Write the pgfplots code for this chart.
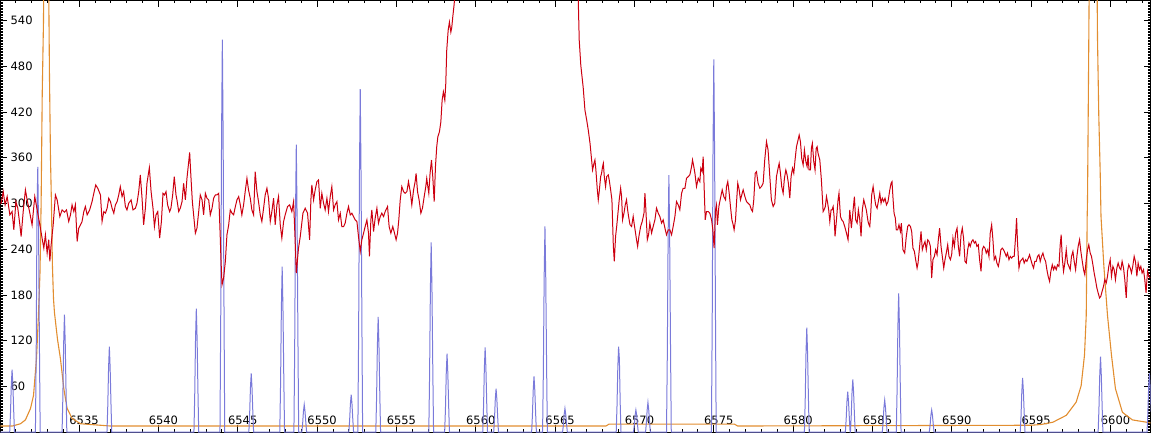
\documentclass[border=0pt]{standalone}
\usepackage{fontspec}
\setmainfont{DejaVu Sans}
\usepackage{pgfplots}
\pgfplotsset{compat=1.18}

\definecolor{specred}{RGB}{204,0,16}
\definecolor{specblue}{RGB}{122,122,218}
\definecolor{specorange}{RGB}{226,142,48}

\begin{document}
\begin{tikzpicture}
\begin{axis}[
    width=1151pt, height=432pt, scale only axis,
    xmin=6530.05, xmax=6602.52,
    ymin=0, ymax=566.2,
    xtick={6535,6540,...,6600},
    minor xtick={6531,6532,...,6602},
    ytick={60,120,...,540},
    minor ytick={0,2,...,566},
    tick align=inside,
    major tick length=7pt,
    minor tick length=3pt,
    tick style={black, line width=0.8pt},
    axis line style={black, line width=1pt},
    /pgf/number format/.cd, 1000 sep={}, assume math mode=true, /pgfplots/.cd,
    tick label style={font=\fontsize{11.5}{12}\selectfont, inner sep=0pt},
    xticklabel style={anchor=base, yshift=8pt, xshift=5pt},
    yticklabel style={anchor=west, xshift=10pt},
    clip=true,
]
% orange envelope
\addplot[color=specorange, line width=1.1pt] coordinates {
(6530.05,8) (6530.80,8) (6531.31,11) (6531.62,16) (6531.94,31) (6532.13,48)
(6532.32,97) (6532.44,153) (6532.54,210) (6532.61,300) (6532.68,444) (6532.76,540)
(6532.85,850) (6532.95,900) (6533.04,700) (6533.135,470) (6533.20,360) (6533.26,300)
(6533.32,220) (6533.39,175) (6533.45,157) (6533.64,122) (6533.83,96) (6534.04,57)
(6534.25,31) (6534.56,18) (6535.09,11) (6536.98,8) (6568.20,8) (6568.40,10.5)
(6576.30,10.5) (6576.50,8) (6595.00,9) (6595.63,10) (6596.37,13) (6597.21,22)
(6597.84,39.5) (6598.15,61) (6598.36,101) (6598.47,153) (6598.53,283) (6598.55,305)
(6598.59,405) (6598.63,512) (6598.75,850) (6598.90,1000) (6599.05,850) (6599.18,516)
(6599.26,416) (6599.35,340) (6599.40,283) (6599.58,218) (6599.81,153) (6600.06,101)
(6600.31,57) (6600.75,26) (6601.38,16) (6602.27,13) (6602.52,12)
};
% blue line spectrum
\addplot[color=specblue, line width=1pt] coordinates {
(6530.00,0)
(6530.63,0) (6530.68,25) (6530.73,62) (6530.78,82) (6530.83,62) (6530.88,29) (6530.93,0)
(6532.25,0) (6532.30,104) (6532.35,290) (6532.40,348) (6532.45,261) (6532.50,122) (6532.55,0)
(6533.93,0) (6533.98,46) (6534.03,116) (6534.08,154) (6534.13,116) (6534.18,54) (6534.23,0)
(6536.76,0) (6536.81,34) (6536.86,84) (6536.91,112) (6536.96,84) (6537.01,39) (6537.06,0)
(6542.24,0) (6542.29,49) (6542.34,122) (6542.39,162) (6542.44,122) (6542.49,57) (6542.54,0)
(6543.88,0) (6543.93,155) (6543.98,386) (6544.03,515) (6544.08,386) (6544.13,180) (6544.18,0)
(6545.70,0) (6545.75,23) (6545.80,58) (6545.85,77) (6545.90,58) (6545.95,27) (6546.00,0)
(6547.65,0) (6547.70,65) (6547.75,163) (6547.80,217) (6547.85,163) (6547.90,76) (6547.95,0)
(6548.54,0) (6548.59,113) (6548.64,283) (6548.69,377) (6548.74,283) (6548.79,132) (6548.84,0)
(6549.04,0) (6549.09,11) (6549.14,27) (6549.19,36) (6549.24,27) (6549.29,13) (6549.34,0)
(6552.00,0) (6552.05,15) (6552.10,37) (6552.15,49) (6552.20,37) (6552.25,17) (6552.30,0)
(6552.57,0) (6552.62,135) (6552.67,338) (6552.72,450) (6552.77,338) (6552.82,158) (6552.87,0)
(6553.70,0) (6553.75,45) (6553.80,113) (6553.85,151) (6553.90,113) (6553.95,53) (6554.00,0)
(6557.04,0) (6557.09,75) (6557.14,187) (6557.19,249) (6557.24,187) (6557.29,87) (6557.34,0)
(6558.04,0) (6558.09,31) (6558.14,77) (6558.19,103) (6558.24,77) (6558.29,36) (6558.34,0)
(6560.44,0) (6560.49,33) (6560.54,83) (6560.59,111) (6560.64,83) (6560.69,39) (6560.74,0)
(6561.13,0) (6561.18,17) (6561.23,43) (6561.28,57) (6561.33,43) (6561.38,20) (6561.43,0)
(6563.52,0) (6563.57,22) (6563.62,55) (6563.67,73) (6563.72,55) (6563.77,26) (6563.82,0)
(6564.21,0) (6564.26,81) (6564.31,203) (6564.36,270) (6564.41,203) (6564.46,95) (6564.51,0)
(6565.47,0) (6565.52,9) (6565.57,23) (6565.62,31) (6565.67,23) (6565.72,11) (6565.77,0)
(6568.85,0) (6568.90,34) (6568.95,84) (6569.00,112) (6569.05,96) (6569.10,39) (6569.15,0)
(6569.94,0) (6569.99,9) (6570.04,22) (6570.09,29) (6570.14,22) (6570.19,10) (6570.24,0)
(6570.70,0) (6570.75,12) (6570.80,29) (6570.85,39) (6570.90,29) (6570.95,14) (6571.00,0)
(6572.02,0) (6572.07,101) (6572.12,253) (6572.17,337) (6572.22,253) (6572.27,118) (6572.32,0)
(6574.85,0) (6574.90,147) (6574.95,367) (6575.00,489) (6575.05,367) (6575.10,171) (6575.15,0)
(6580.71,0) (6580.76,41) (6580.81,103) (6580.86,137) (6580.91,103) (6580.96,48) (6581.01,0)
(6583.29,0) (6583.34,16) (6583.39,40) (6583.44,53) (6583.49,40) (6583.54,19) (6583.59,0)
(6583.61,0) (6583.66,21) (6583.71,52) (6583.76,69) (6583.81,52) (6583.86,24) (6583.91,0)
(6585.62,0) (6585.67,13) (6585.72,32) (6585.77,42) (6585.82,32) (6585.87,15) (6585.92,0)
(6586.50,0) (6586.55,55) (6586.60,137) (6586.65,182) (6586.70,137) (6586.75,64) (6586.80,0)
(6588.58,0) (6588.63,9) (6588.68,22) (6588.73,29) (6588.78,22) (6588.83,10) (6588.88,0)
(6594.31,0) (6594.36,21) (6594.41,53) (6594.46,71) (6594.51,53) (6594.56,25) (6594.61,0)
(6599.22,0) (6599.27,30) (6599.32,74) (6599.37,99) (6599.42,74) (6599.47,35) (6599.52,0)
(6602.30,0) (6602.35,23) (6602.40,58) (6602.45,77) (6602.50,58) (6602.55,27)
};
% red observed spectrum
\addplot[color=specred, line width=1pt] coordinates {
(6530.05,300) (6530.09,300.2) (6530.22,315.5) (6530.34,298.1) (6530.47,309) (6530.64,285)
(6530.78,289.3) (6530.89,265.4) (6531.02,302.4) (6531.14,293.7) (6531.27,271.9) (6531.35,256.6)
(6531.48,289.3) (6531.62,317.7) (6531.73,304.6) (6531.90,287.2) (6532.04,271.9) (6532.21,309)
(6532.36,291.5) (6532.53,271.9) (6532.67,254.5) (6532.78,241.4) (6532.88,258.8) (6532.99,234.8)
(6533.09,252.3) (6533.16,224) (6533.24,245.7) (6533.37,271.9) (6533.51,311.1) (6533.62,304.6)
(6533.79,282.8) (6533.93,291.5) (6534.08,288.5) (6534.21,291.5) (6534.35,276.3) (6534.46,285)
(6534.56,298.1) (6534.67,289.3) (6534.77,298.1) (6534.88,250.1) (6534.98,267.5) (6535.09,271.9)
(6535.19,276.3) (6535.30,289.3) (6535.40,295.9) (6535.51,285) (6535.67,291.5) (6535.82,302.4)
(6535.93,313.3) (6536.05,324.2) (6536.18,319.9) (6536.35,311.1) (6536.45,276.3) (6536.56,289.3)
(6536.66,287.2) (6536.77,293.7) (6536.87,306.8) (6536.98,302.4) (6537.08,293.7) (6537.19,287.2)
(6537.29,298.1) (6537.40,302.4) (6537.50,311.1) (6537.60,322) (6537.71,309) (6537.81,315.5)
(6537.92,295.9) (6538.02,291.5) (6538.13,300.2) (6538.28,304.6) (6538.40,291.5) (6538.55,293.7)
(6538.65,300.2) (6538.76,315.5) (6538.86,337.3) (6538.97,306.8) (6539.07,271.9) (6539.18,293.7)
(6539.28,326.4) (6539.43,346.9) (6539.54,315.5) (6539.66,293.7) (6539.75,269.7) (6539.85,285)
(6539.96,289.3) (6540.08,254.5) (6540.19,276.3) (6540.29,313.3) (6540.38,311.1) (6540.48,315.5)
(6540.58,298.1) (6540.71,289.3) (6540.79,293.7) (6540.90,311.1) (6541.00,335.1) (6541.11,311.1)
(6541.17,304.6) (6541.28,289.3) (6541.38,293.7) (6541.49,302.4) (6541.59,326.4) (6541.70,304.6)
(6541.80,332.9) (6541.91,354.7) (6541.97,366.9) (6542.05,335.1) (6542.14,302.4) (6542.22,285)
(6542.33,261) (6542.43,267.5) (6542.54,289.3) (6542.64,311.1) (6542.75,304.6) (6542.85,285)
(6542.96,313.3) (6543.06,306.8) (6543.17,304.6) (6543.27,285) (6543.38,293.7) (6543.48,306.8)
(6543.59,311.1) (6543.69,311.1) (6543.80,313.3) (6543.90,254.5) (6543.94,228.3) (6544.01,193.4)
(6544.11,202.1) (6544.22,224) (6544.32,258.8) (6544.43,271.9) (6544.53,291.5) (6544.64,287.2)
(6544.74,285) (6544.85,295.9) (6544.95,304.6) (6545.06,309) (6545.16,298.1) (6545.26,285)
(6545.37,298.1) (6545.47,315.5) (6545.58,332.9) (6545.68,317.7) (6545.79,306.8) (6545.89,291.5)
(6546.00,285) (6546.10,341.7) (6546.21,315.5) (6546.31,302.4) (6546.42,285) (6546.52,276.3)
(6546.63,293.7) (6546.73,311.1) (6546.84,319.9) (6546.94,306.8) (6547.05,276.3) (6547.15,289.3)
(6547.26,306.8) (6547.36,271.9) (6547.47,298.1) (6547.57,309) (6547.68,271.9) (6547.78,254.5)
(6547.89,276.3) (6547.99,285) (6548.14,295.9) (6548.27,298.1)
(6548.41,289.3) (6548.52,302.4) (6548.60,261) (6548.69,208.7) (6548.83,241.4) (6548.94,256.6)
(6549.11,287.2) (6549.25,293.7) (6549.40,287.2) (6549.53,252.3) (6549.61,304.6) (6549.67,324.2)
(6549.78,304.6) (6549.88,317.7) (6549.99,328.6) (6550.09,330.8) (6550.20,293.7) (6550.30,313.3)
(6550.41,300.2) (6550.51,291.5) (6550.62,306.8) (6550.72,289.3) (6550.83,309) (6550.93,322)
(6551.04,291.5) (6551.14,298.1) (6551.25,302.4) (6551.35,278.4) (6551.46,287.2) (6551.56,269.7)
(6551.67,269.7) (6551.77,274.1) (6551.88,287.2) (6551.98,295.9) (6552.09,285) (6552.19,287.2)
(6552.30,282.8) (6552.40,278.4) (6552.51,276.3) (6552.61,256.6) (6552.72,237) (6552.82,252.3)
(6552.93,261) (6553.03,269.7) (6553.14,278.4) (6553.24,261) (6553.30,230.5) (6553.39,278.4)
(6553.45,291.5) (6553.56,263.2) (6553.66,280.6) (6553.77,293.7) (6553.87,274.1) (6553.98,282.8)
(6554.08,287.2) (6554.19,282.8) (6554.29,289.3) (6554.44,295.9) (6554.54,269.7) (6554.65,261)
(6554.77,269.7) (6554.88,261) (6554.98,252.3) (6555.07,261) (6555.15,278.4) (6555.24,304.6)
(6555.34,322) (6555.45,315.5) (6555.55,313.3) (6555.66,315.5) (6555.76,328.6) (6555.87,315.5)
(6555.97,298.1) (6556.08,317.7) (6556.18,328.6) (6556.24,339.5) (6556.33,315.5) (6556.43,304.6)
(6556.54,287.2) (6556.64,293.7) (6556.75,309) (6556.85,322) (6556.91,332.9) (6556.98,322)
(6557.04,313.3) (6557.12,339.5) (6557.21,356.9) (6557.29,335.1) (6557.38,302.4) (6557.46,348.2)
(6557.54,374.4) (6557.61,387.4) (6557.71,394) (6557.80,407.1) (6557.88,435.4) (6557.96,446.3)
(6558.05,435.4) (6558.11,457.2) (6558.17,500.8) (6558.26,527) (6558.34,537.9) (6558.43,524.8)
(6558.49,531.3) (6558.55,544.4) (6558.64,561.8) (6558.75,600) (6559.00,700) (6559.50,850)
(6560.50,1050) (6561.50,1200) (6562.50,1280) (6563.30,1290) (6564.20,1200) (6565.00,1000)
(6565.60,820) (6566.00,700) (6566.30,620) (6566.46,566) (6566.52,514) (6566.62,481)
(6566.77,452)
(6566.88,422.4) (6566.99,409.3) (6567.09,396.2) (6567.20,378.8) (6567.30,357) (6567.36,343.9)
(6567.45,352.6) (6567.51,357) (6567.57,343.9) (6567.66,317.8) (6567.72,304.7) (6567.78,315.6)
(6567.87,335.2) (6567.93,339.6) (6567.99,348.3) (6568.04,352.6) (6568.10,335.2) (6568.18,322.1)
(6568.25,335.2) (6568.35,337.4) (6568.41,330.8) (6568.50,317.8) (6568.58,304.7) (6568.67,243.6)
(6568.73,224) (6568.81,256.7) (6568.88,269.8) (6568.96,287.2) (6569.04,304.7) (6569.13,319.9)
(6569.19,309) (6569.25,278.5) (6569.34,287.2) (6569.42,298.1) (6569.50,304.7) (6569.57,291.6)
(6569.63,282.9) (6569.72,272) (6569.82,269.8) (6569.92,282.9) (6569.99,272) (6570.07,261.1)
(6570.13,252.4) (6570.20,243.6) (6570.28,256.7) (6570.39,269.8) (6570.49,276.3) (6570.60,287.2)
(6570.66,313.4) (6570.72,291.6) (6570.81,252.4) (6570.89,258.9) (6570.97,274.2) (6571.08,261.1)
(6571.18,269.8) (6571.29,278.5) (6571.39,293.8) (6571.50,287.2) (6571.60,282.9) (6571.71,274.2)
(6571.81,278.5) (6571.92,267.6) (6572.02,258.9) (6572.13,265.4) (6572.23,265.4) (6572.34,258.9)
(6572.44,269.8) (6572.55,282.9) (6572.65,302.5) (6572.76,298.1) (6572.86,291.6) (6572.97,313.4)
(6573.07,319.9) (6573.18,319.9) (6573.28,333) (6573.39,335.2) (6573.49,337.4) (6573.60,348.3)
(6573.66,357) (6573.74,348.3) (6573.81,339.6) (6573.91,322.1) (6574.02,333) (6574.12,328.7)
(6574.18,346.1) (6574.27,341.7) (6574.33,361.4) (6574.39,322.1) (6574.46,278.5) (6574.54,289.4)
(6574.65,289.4) (6574.75,287.2) (6574.86,278.5) (6574.94,265.4) (6575.02,241.5) (6575.11,291.6)
(6575.17,298.1) (6575.23,272) (6575.32,296) (6575.42,306.9) (6575.53,317.8) (6575.63,309)
(6575.74,304.7) (6575.80,322.1) (6575.88,328.7) (6575.97,313.4) (6576.05,296) (6576.14,278.5)
(6576.22,272) (6576.28,265.4) (6576.37,278.5) (6576.43,300.3) (6576.51,326.5) (6576.60,317.8)
(6576.68,304.7) (6576.79,313.4) (6576.85,317.8) (6576.96,309) (6577.06,302.5) (6577.16,300.3)
(6577.27,298.1) (6577.37,291.6) (6577.44,289.4) (6577.52,304.7) (6577.61,339.6) (6577.69,341.7)
(6577.79,326.5) (6577.90,319.9) (6578.00,322.1) (6578.11,326.5) (6578.21,357) (6578.32,381)
(6578.42,370.1) (6578.53,335.2) (6578.63,304.7) (6578.74,296) (6578.84,300.3) (6578.95,335.2)
(6579.05,346.1) (6579.12,352.6) (6579.20,339.6) (6579.28,322.1) (6579.37,313.4) (6579.45,333)
(6579.54,343.9) (6579.62,337.4) (6579.70,326.5) (6579.79,306.9) (6579.87,335.2) (6579.96,346.1)
(6580.04,339.6) (6580.12,357) (6580.21,374.4) (6580.31,383.2) (6580.38,389.7) (6580.46,381)
(6580.54,359.2) (6580.63,350.5) (6580.71,370.1) (6580.80,354.8) (6580.88,348.3) (6580.94,363.5)
(6581.00,343.9) (6581.09,343.9) (6581.15,372.3) (6581.21,378.8) (6581.30,354.8) (6581.38,343.9)
(6581.45,372.3) (6581.51,374.4) (6581.57,365.7) (6581.68,357) (6581.78,330.8) (6581.89,289.4)
(6581.95,291.6) (6582.03,296) (6582.10,309) (6582.16,302.5) (6582.24,291.6) (6582.31,276.3)
(6582.39,291.6) (6582.45,291.6) (6582.52,296) (6582.58,282.9) (6582.64,256.7) (6582.73,278.5)
(6582.83,304.7) (6582.89,313.4) (6582.98,282.9) (6583.06,278.5) (6583.15,276.3) (6583.25,269.8)
(6583.36,261.1) (6583.46,252.4) (6583.57,291.6) (6583.67,267.6) (6583.78,291.6) (6583.86,309)
(6583.94,278.5) (6584.03,274.2) (6584.11,291.6) (6584.20,278.5) (6584.28,256.7) (6584.36,291.6)
(6584.45,304.7) (6584.53,298.1) (6584.61,291.6) (6584.72,276.3) (6584.78,272)
(6584.83,269.8) (6584.89,287.2) (6584.95,311.2) (6585.04,322.1) (6585.12,309) (6585.20,298.1)
(6585.29,293.7) (6585.37,302.5) (6585.46,313.4) (6585.54,300.3) (6585.62,306.8) (6585.71,302.5)
(6585.79,306.8) (6585.88,298.1) (6585.98,302.5) (6586.09,317.7) (6586.17,326.4) (6586.23,328.6)
(6586.30,304.6) (6586.36,287.2) (6586.44,280.7) (6586.50,265.4) (6586.59,265.4) (6586.67,272)
(6586.76,263.2) (6586.82,274.1) (6586.92,239.2) (6587.03,234.9) (6587.13,256.7) (6587.22,269.8)
(6587.30,272) (6587.39,269.8) (6587.47,263.2) (6587.55,241.4) (6587.64,237.1) (6587.72,226.2)
(6587.81,215.3) (6587.87,221.8) (6587.97,243.6) (6588.06,263.2) (6588.14,239.2) (6588.23,245.8)
(6588.31,250.1) (6588.39,239.2) (6588.48,252.3) (6588.56,250.1) (6588.65,243.6) (6588.73,202.2)
(6588.81,226.2) (6588.90,230.5) (6588.98,239.2) (6589.07,232.7) (6589.15,252.3) (6589.23,267.6)
(6589.32,243.6) (6589.40,230.5) (6589.49,215.3) (6589.57,226.2) (6589.65,234.9) (6589.74,245.8)
(6589.82,230.5) (6589.91,226.2) (6589.99,232.7) (6590.07,254.5) (6590.16,243.6) (6590.24,261)
(6590.33,267.6) (6590.41,243.6) (6590.49,230.5) (6590.58,258.9) (6590.66,267.6) (6590.74,254.5)
(6590.83,224) (6590.91,221.8) (6591.00,239.2) (6591.08,248) (6591.16,243.6) (6591.25,250.1)
(6591.33,252.3) (6591.42,248) (6591.50,250.1) (6591.58,243.6) (6591.67,245.8) (6591.75,226.2)
(6591.84,210.9) (6591.92,239.2) (6592.00,243.6) (6592.09,241.4) (6592.17,234.9) (6592.26,239.2)
(6592.34,230.5) (6592.42,261) (6592.51,272) (6592.59,252.3) (6592.67,226.2) (6592.76,230.5)
(6592.84,221.8) (6592.93,217.4) (6593.01,226.2) (6593.09,239.2) (6593.18,241.4) (6593.26,239.2)
(6593.35,234.9) (6593.43,230.5) (6593.51,234.9) (6593.60,226.2) (6593.68,230.5) (6593.77,228.3)
(6593.85,230.5) (6593.93,230.5) (6594.02,256.7) (6594.08,280.7) (6594.14,248) (6594.23,215.3)
(6594.31,224) (6594.40,226.2) (6594.48,228.3) (6594.56,221.8) (6594.65,226.2) (6594.73,224)
(6594.82,228.3) (6594.90,232.7) (6594.98,226.2) (6595.07,219.6) (6595.15,215.3) (6595.23,224)
(6595.32,224) (6595.40,230.5) (6595.49,232.7) (6595.57,224) (6595.65,230.5) (6595.74,234.9)
(6595.82,228.3) (6595.91,224) (6595.99,213.1) (6596.07,204.4) (6596.16,197.8) (6596.24,210.9)
(6596.33,219.6) (6596.41,213.1) (6596.49,217.4) (6596.58,213.1) (6596.66,219.6) (6596.75,217.4)
(6596.83,245.8) (6596.89,258.9) (6596.96,228.3) (6597.04,210.9) (6597.12,221.8) (6597.21,239.2)
(6597.29,221.8) (6597.38,217.4) (6597.46,213.1) (6597.54,230.5) (6597.63,237.1) (6597.71,224)
(6597.80,213.1) (6597.88,230.5) (6597.96,243.6) (6598.05,252.3) (6598.13,237.1) (6598.22,224)
(6598.30,213.1) (6598.38,206.5) (6598.47,226.2) (6598.55,239.2) (6598.63,245.8) (6598.72,234.9)
(6598.80,230.5) (6598.89,219.6) (6598.97,208.7) (6599.05,200) (6599.14,189.1) (6599.22,182.6)
(6599.31,176) (6599.39,178.2) (6599.47,184.7) (6599.56,191.3) (6599.64,200) (6599.73,195.6)
(6599.81,204.4) (6599.89,217.4) (6599.98,226.2) (6600.06,204.4) (6600.15,217.4) (6600.23,213.1)
(6600.31,200) (6600.40,215.3) (6600.48,221.8) (6600.57,215.3) (6600.65,213.1) (6600.73,224)
(6600.82,215.3) (6600.90,200) (6600.99,176) (6601.07,210.9) (6601.15,219.6) (6601.24,215.3)
(6601.32,208.7) (6601.40,217.4) (6601.49,230.5) (6601.57,224) (6601.66,204.4) (6601.74,221.8)
(6601.83,213.1) (6601.91,217.4) (6601.99,208.7) (6602.08,213.1) (6602.16,200) (6602.24,182.6)
(6602.33,210.9) (6602.41,204.4) (6602.49,202.2)
};
\end{axis}
\end{tikzpicture}
\end{document}
